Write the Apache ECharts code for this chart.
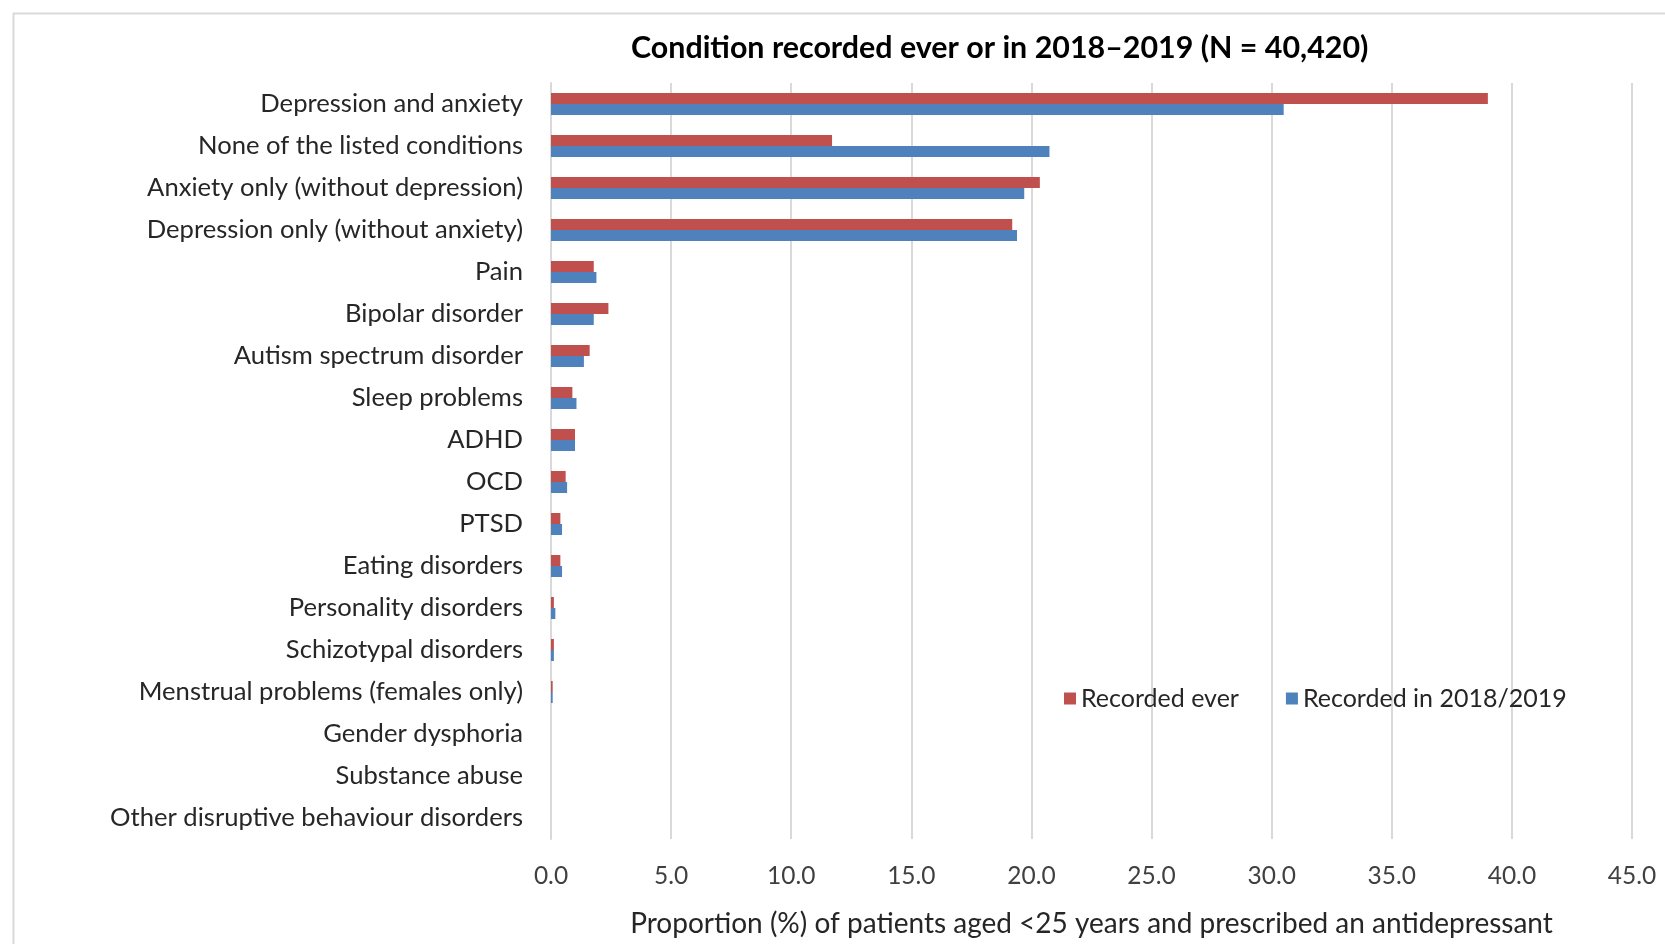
<!DOCTYPE html>
<html>
<head>
<meta charset="utf-8">
<script src="https://cdn.jsdelivr.net/npm/echarts@6/dist/echarts.min.js"></script>
<style>
html,body{margin:0;padding:0;background:#fff;}
#chart{width:1665px;height:944px;}
</style>
</head>
<body>
<div id="chart"></div>
<script>
var categories = [
  'Depression and anxiety',
  'None of the listed conditions',
  'Anxiety only (without depression)',
  'Depression only (without anxiety)',
  'Pain',
  'Bipolar disorder',
  'Autism spectrum disorder',
  'Sleep problems',
  'ADHD',
  'OCD',
  'PTSD',
  'Eating disorders',
  'Personality disorders',
  'Schizotypal disorders',
  'Menstrual problems (females only)',
  'Gender dysphoria',
  'Substance abuse',
  'Other disruptive behaviour disorders'
];
var recordedEver = [39.0, 11.7, 20.35, 19.2, 1.78, 2.39, 1.61, 0.89, 1.0, 0.61, 0.39, 0.39, 0.12, 0.12, 0.07, 0, 0, 0];
var recorded2018 = [30.5, 20.75, 19.7, 19.4, 1.89, 1.78, 1.37, 1.06, 1.0, 0.67, 0.46, 0.46, 0.18, 0.12, 0.07, 0, 0, 0];
var xTicks = [0, 5, 10, 15, 20, 25, 30, 35, 40, 45];
var seriesNames = ['Recorded ever', 'Recorded in 2018/2019'];
var titleText = 'Condition recorded ever or in 2018\u20132019 (N = 40,420)';
var xAxisName = 'Proportion (%) of patients aged <25 years and prescribed an antidepressant';

var FONT = 'Lato';
var chart = echarts.init(document.getElementById('chart'), null, {renderer: 'canvas'});
chart.setOption({
  backgroundColor: '#ffffff',
  animation: false,
  textStyle: {fontFamily: FONT},
  graphic: [{
    type: 'rect',
    shape: {x: 13.5, y: 13.5, width: 1700, height: 1000},
    style: {fill: 'none', stroke: '#d9d9d9', lineWidth: 2},
    silent: true, z: -10
  }],
  title: {
    text: titleText,
    left: 626, top: 28,
    textStyle: {fontFamily: FONT, fontSize: 30.4, fontWeight: 'bold', color: '#000'}
  },
  legend: {
    data: seriesNames,
    left: 1059, top: 681,
    itemWidth: 12, itemHeight: 12, itemGap: 47,
    icon: 'rect',
    textStyle: {fontFamily: FONT, fontSize: 25, color: '#262626', padding: [0, 0, 0, 0]}
  },
  grid: {left: 551, right: 33, top: 83, bottom: 105, containLabel: false},
  xAxis: {
    type: 'value',
    min: 0, max: 45, interval: 5,
    axisLabel: {
      fontFamily: FONT, fontSize: 24.5, color: '#404040', margin: 25,
      formatter: function (v) { return xTicks.indexOf(v) >= 0 ? v.toFixed(1) : ''; }
    },
    axisLine: {show: false},
    axisTick: {show: false},
    splitLine: {show: true, lineStyle: {color: '#d9d9d9', width: 2}},
    name: xAxisName,
    nameLocation: 'middle',
    nameGap: 71,
    nameTextStyle: {fontFamily: FONT, fontSize: 28, color: '#262626'}
  },
  yAxis: {
    type: 'category',
    data: categories,
    inverse: true,
    axisLine: {show: true, lineStyle: {color: '#d9d9d9', width: 2}},
    axisTick: {show: false},
    axisLabel: {fontFamily: FONT, fontSize: 25.6, color: '#262626', margin: 28}
  },
  series: [
    {
      name: seriesNames[0], type: 'bar', data: recordedEver,
      barWidth: 11, barGap: '0%',
      itemStyle: {color: '#C0504D'}
    },
    {
      name: seriesNames[1], type: 'bar', data: recorded2018,
      barWidth: 11, barGap: '0%',
      itemStyle: {color: '#4F81BD'}
    }
  ]
});
</script>
</body>
</html>
